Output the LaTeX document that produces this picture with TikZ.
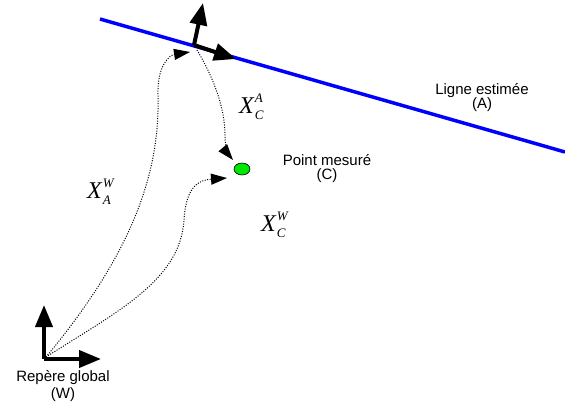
\documentclass[tikz,border=0pt]{standalone}
\usepackage{fontspec}
\setmainfont{Liberation Sans}
\newfontfamily\tnr{Liberation Serif}
\usetikzlibrary{arrows.meta,shapes.geometric}
\newcommand\XLab[2]{{\tnr\itshape\fontsize{24}{24}\selectfont X}\kern1pt{\tnr\itshape\fontsize{13}{13}\selectfont\rlap{\raisebox{11pt}{#2}}\raisebox{-6pt}{#1}}}
\tikzset{
  frameax/.style={line width=4pt,-{Triangle[length=22pt,width=17pt]}},
  dotcurve/.style={line width=1pt,dash pattern=on 1pt off 1.5pt,-{Triangle[length=16pt,width=11pt]}},
  lab/.style={font=\fontsize{15}{14}\selectfont,align=center,inner sep=0pt},
  mathlab/.style={anchor=base west,inner sep=0pt},
}
\begin{document}
\begin{tikzpicture}[x=1pt,y=-1pt]
\useasboundingbox (0,0) rectangle (565,408);
% blue line
\coordinate (L1) at (100,19);
\coordinate (L2) at (565,152);
\draw[blue,line width=3.5pt] (L1) -- (L2);
% frame A
\coordinate (A) at (194,45);
\coordinate (Ay) at (203,3);
\coordinate (Ax) at (236,59);
\draw[frameax] (A) -- (Ay);
\draw[frameax] (A) -- (Ax);
% frame W
\coordinate (W) at (44,359);
\coordinate (Wy) at (44,305);
\coordinate (Wx) at (101,359);
\draw[frameax] (W) -- (Wy);
\draw[frameax] (W) -- (Wx);
% point C
\node[ellipse,draw=black,line width=0.6pt,fill={rgb,255:red,0;green,230;blue,0},minimum width=16pt,minimum height=12pt,inner sep=0pt] (C) at (242,169) {};
% curve tips
\coordinate (Atip) at (190,52);
\coordinate (As) at (197,50);
\coordinate (Ctip1) at (233,160);
\coordinate (Ctip2) at (227,178);
\coordinate (Ws) at (46,357);
% dotted curves
\draw[dotcurve] (Ws) .. controls (135,250) and (160,170) .. (158,95) .. controls (157,65) and (170,55) .. (Atip);
\draw[dotcurve] (Ws) .. controls (120,310) and (180,280) .. (184,220) .. controls (186,185) and (200,180) .. (Ctip2);
\draw[dotcurve] (As) .. controls (215,80) and (225,110) .. (225,135) .. controls (225,148) and (228,154) .. (Ctip1);
% labels
\node[lab] (lA) at (482,97.5) {Ligne estimée\\(A)};
\node[lab] (lC) at (327,168.5) {Point mesuré\\(C)};
\node[lab] (lW) at (63,386) {Repère global\\[3pt](W)};
\node[mathlab] (xaw) at (87,198) {\XLab{A}{W}};
\node[mathlab] (xca) at (239,113) {\XLab{C}{A}};
\node[mathlab] (xcw) at (261,231) {\XLab{C}{W}};
\end{tikzpicture}
\end{document}
